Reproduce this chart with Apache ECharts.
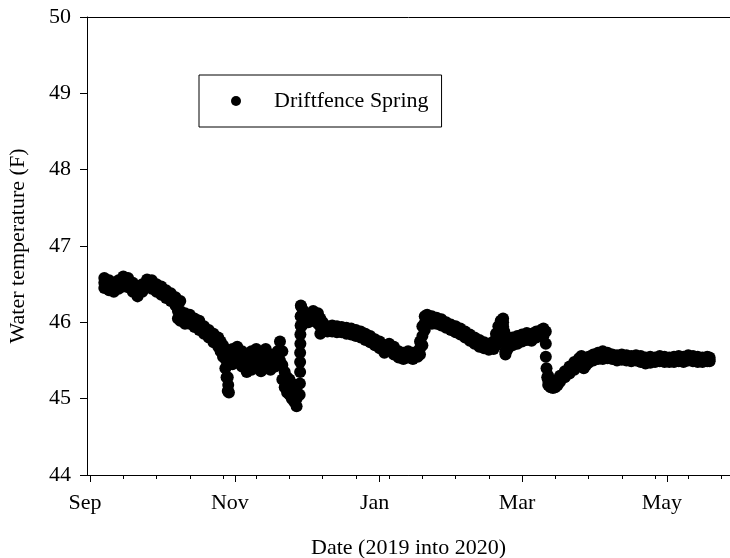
<!DOCTYPE html>
<html>
<head>
<meta charset="utf-8">
<script src="https://cdn.jsdelivr.net/npm/echarts@6/dist/echarts.min.js"></script>
<style>
html,body{margin:0;padding:0;background:#fff;}
#chart{width:730px;height:558px;}
</style>
</head>
<body>
<div id="chart"></div>
<script>
// ---------- text ----------
const seriesName = 'Driftfence Spring';
const xTitle = 'Date (2019 into 2020)';
const yTitle = 'Water temperature (F)';

// ---------- axis ticks (x = days since 2019-09-01) ----------
const monthTickDays = [0, 61, 122, 182, 243];
const monthTickLabels = ['Sep', 'Nov', 'Jan', 'Mar', 'May'];
const minorTickDays = [0, 14, 28, 42, 56, 70, 84, 98, 112, 126, 140, 154, 168, 182, 196, 210, 224, 238, 252, 266];
const yMin = 44, yMax = 50, yStep = 1;

// ---------- data (days since 2019-09-01; daily high / middle / low water temperature, F) ----------
const days = [
  6, 8, 10, 12, 14, 16, 18, 20, 22, 24,
  26, 28, 30, 32, 34, 36, 37, 38, 40, 42,
  44, 46, 48, 50, 52, 54, 55, 56, 57, 58,
  59, 60, 62, 64, 66, 68, 70, 72, 74, 76,
  78, 79, 80, 81, 82, 83, 84, 85, 86, 87,
  89, 90, 92, 94, 96, 97, 98, 100, 102, 104,
  106, 108, 110, 112, 114, 116, 118, 120, 122, 124,
  126, 128, 130, 132, 134, 136, 138, 139, 140, 141,
  142, 144, 146, 148, 150, 152, 154, 156, 158, 160,
  162, 164, 166, 168, 170, 171, 172, 173, 174, 175,
  176, 178, 180, 182, 184, 186, 188, 190, 191, 192,
  193, 194, 195, 196, 197, 198, 200, 202, 204, 206,
  207, 208, 209, 210, 212, 214, 216, 218, 220, 222,
  224, 226, 228, 230, 232, 234, 236, 238, 240, 242,
  244, 246, 248, 250, 252, 254, 256, 258, 260, 261
];
const dailyHigh = [
  46.58, 46.55, 46.52, 46.55, 46.60, 46.58, 46.52, 46.45, 46.50, 46.56,
  46.55, 46.50, 46.47, 46.42, 46.38, 46.33, 46.25, 46.28, 46.12, 46.10,
  46.05, 46.02, 45.95, 45.90, 45.85, 45.80, 45.75, 45.70, 45.65, 45.45,
  45.62, 45.65, 45.68, 45.62, 45.58, 45.62, 45.65, 45.60, 45.65, 45.58,
  45.55, 45.62, 45.75, 45.62, 45.35, 45.28, 45.25, 45.20, 45.15, 45.10,
  46.20, 46.15, 46.10, 46.15, 46.12, 46.05, 46.00, 45.95, 45.96, 45.95,
  45.94, 45.93, 45.92, 45.90, 45.88, 45.85, 45.82, 45.78, 45.75, 45.70,
  45.72, 45.68, 45.62, 45.60, 45.62, 45.60, 45.62, 45.75, 45.95, 46.08,
  46.10, 46.08, 46.06, 46.04, 46.00, 45.97, 45.95, 45.92, 45.88, 45.84,
  45.80, 45.77, 45.74, 45.72, 45.75, 45.85, 45.95, 46.02, 46.05, 45.62,
  45.75, 45.80, 45.82, 45.84, 45.86, 45.85, 45.88, 45.90, 45.92, 45.88,
  45.30, 45.22, 45.20, 45.22, 45.25, 45.30, 45.36, 45.42, 45.48, 45.53,
  45.56, 45.50, 45.52, 45.55, 45.58, 45.60, 45.62, 45.60, 45.58, 45.57,
  45.58, 45.57, 45.56, 45.57, 45.56, 45.54, 45.55, 45.54, 45.56, 45.55,
  45.54, 45.55, 45.56, 45.55, 45.57, 45.56, 45.55, 45.54, 45.55, 45.54
];
const dailyMid = [
  46.52, 46.48, 46.46, 46.50, 46.54, 46.52, 46.46, 46.40, 46.45, 46.51,
  46.50, 46.45, 46.42, 46.37, 46.33, 46.28, 46.15, 46.15, 46.05, 46.04,
  46.00, 45.96, 45.90, 45.85, 45.80, 45.74, 45.68, 45.62, 45.52, 45.28,
  45.54, 45.55, 45.58, 45.52, 45.46, 45.50, 45.54, 45.48, 45.52, 45.48,
  45.48, 45.54, 45.62, 45.44, 45.25, 45.18, 45.15, 45.10, 45.05, 45.00,
  46.08, 46.06, 46.05, 46.08, 46.05, 45.95, 45.94, 45.92, 45.92, 45.91,
  45.90, 45.89, 45.88, 45.86, 45.84, 45.81, 45.78, 45.74, 45.70, 45.65,
  45.68, 45.63, 45.58, 45.56, 45.58, 45.56, 45.58, 45.66, 45.82, 45.99,
  46.05, 46.03, 46.02, 46.00, 45.96, 45.93, 45.91, 45.88, 45.84, 45.80,
  45.76, 45.72, 45.70, 45.68, 45.70, 45.78, 45.88, 45.95, 46.00, 45.60,
  45.70, 45.75, 45.77, 45.80, 45.82, 45.80, 45.84, 45.86, 45.87, 45.72,
  45.24, 45.18, 45.17, 45.18, 45.22, 45.26, 45.32, 45.38, 45.43, 45.48,
  45.52, 45.45, 45.48, 45.51, 45.54, 45.56, 45.57, 45.56, 45.55, 45.53,
  45.54, 45.53, 45.52, 45.53, 45.52, 45.50, 45.51, 45.51, 45.52, 45.51,
  45.51, 45.51, 45.52, 45.51, 45.53, 45.52, 45.51, 45.51, 45.52, 45.51
];
const dailyLow = [
  46.45, 46.42, 46.40, 46.44, 46.47, 46.46, 46.40, 46.34, 46.40, 46.46,
  46.44, 46.40, 46.36, 46.32, 46.28, 46.22, 46.05, 46.02, 45.98, 45.98,
  45.94, 45.90, 45.85, 45.80, 45.74, 45.68, 45.62, 45.55, 45.40, 45.10,
  45.45, 45.45, 45.48, 45.42, 45.35, 45.38, 45.42, 45.36, 45.40, 45.38,
  45.42, 45.45, 45.50, 45.25, 45.15, 45.08, 45.05, 45.00, 44.96, 44.90,
  45.95, 45.98, 46.00, 46.02, 45.98, 45.85, 45.88, 45.88, 45.88, 45.87,
  45.87, 45.85, 45.84, 45.82, 45.80, 45.77, 45.74, 45.70, 45.66, 45.60,
  45.64, 45.58, 45.54, 45.52, 45.54, 45.52, 45.55, 45.58, 45.70, 45.90,
  46.00, 45.98, 45.98, 45.96, 45.93, 45.90, 45.87, 45.84, 45.80, 45.76,
  45.72, 45.68, 45.66, 45.64, 45.65, 45.70, 45.80, 45.88, 45.95, 45.58,
  45.65, 45.70, 45.72, 45.75, 45.77, 45.76, 45.80, 45.82, 45.82, 45.55,
  45.18, 45.15, 45.14, 45.15, 45.18, 45.22, 45.28, 45.33, 45.38, 45.44,
  45.48, 45.40, 45.44, 45.47, 45.50, 45.52, 45.52, 45.53, 45.52, 45.50,
  45.51, 45.50, 45.49, 45.50, 45.48, 45.46, 45.47, 45.48, 45.49, 45.48,
  45.48, 45.48, 45.49, 45.48, 45.50, 45.49, 45.48, 45.48, 45.49, 45.49
];
// readings along the steep jumps/drops
const stepDays  = [57.5, 58.2, 58.5, 88.3, 88.4, 88.5, 88.5, 88.5, 88.6, 88.6, 88.7, 88.7, 88.8, 174.5, 174.7, 192.3, 192.6];
const stepTemps = [45.28, 45.18, 45.08, 45.05, 45.20, 45.35, 45.48, 45.60, 45.72, 45.84, 45.96, 46.08, 46.22, 45.88, 45.74, 45.40, 45.28];

// ---------- chart ----------
const FONT = "'Liberation Serif','Times New Roman',serif";
const FS = 22;
const xMin = -1.3, xMax = 269.6;
const black = '#000';
const pairs = (xs, ys) => xs.map((d, i) => [d, ys[i]]);

const chart = echarts.init(document.getElementById('chart'), null, {renderer: 'canvas'});

const baseSeries = {
  type: 'scatter',
  name: seriesName,
  symbol: 'circle',
  symbolSize: 12,
  itemStyle: {color: black, opacity: 1},
  emphasis: {disabled: true},
  silent: true,
  animation: false
};

const option = {
  animation: false,
  backgroundColor: '#fff',
  grid: {left: 87, right: 0, top: 17, bottom: 83, containLabel: false, outerBoundsMode: 'none'},
  legend: {
    data: [seriesName],
    left: 199, top: 75,
    orient: 'horizontal',
    padding: [15, 13, 15, 32],
    borderColor: black, borderWidth: 1, borderRadius: 0,
    itemWidth: 10, itemHeight: 10, itemGap: 0,
    icon: 'circle',
    selectedMode: false,
    textStyle: {fontFamily: FONT, fontSize: FS, color: black, padding: [0, 0, 0, 28]}
  },
  xAxis: [
    {
      type: 'value', min: xMin, max: xMax, position: 'bottom',
      axisLine: {show: true, onZero: false, lineStyle: {color: black, width: 1}},
      axisTick: {show: true, customValues: monthTickDays, length: 7, inside: false, lineStyle: {color: black, width: 1}},
      axisLabel: {
        show: true, customValues: monthTickDays, margin: 17,
        padding: [0, 10, 0, 0],
        formatter: v => monthTickLabels[monthTickDays.indexOf(v)],
        fontFamily: FONT, fontSize: FS, color: black
      },
      splitLine: {show: false},
      name: xTitle, nameLocation: 'middle', nameGap: 62,
      nameTextStyle: {fontFamily: FONT, fontSize: FS, color: black}
    },
    {
      type: 'value', min: xMin, max: xMax, position: 'bottom',
      axisLine: {show: true, onZero: false, lineStyle: {color: black, width: 1}},
      axisTick: {show: true, customValues: minorTickDays, length: 4, inside: false, lineStyle: {color: black, width: 1}},
      axisLabel: {show: false},
      splitLine: {show: false}
    },
    {
      type: 'value', min: xMin, max: xMax, position: 'top',
      axisLine: {show: true, onZero: false, lineStyle: {color: black, width: 1}},
      axisTick: {show: false},
      axisLabel: {show: false},
      splitLine: {show: false}
    }
  ],
  yAxis: {
    type: 'value', min: yMin, max: yMax, interval: yStep,
    axisLine: {show: true, onZero: false, lineStyle: {color: black, width: 1}},
    axisTick: {show: true, length: 7, inside: false, lineStyle: {color: black, width: 1}},
    axisLabel: {margin: 16, fontFamily: FONT, fontSize: FS, color: black},
    splitLine: {show: false},
    name: yTitle, nameLocation: 'middle', nameGap: 58, nameRotate: 90,
    nameTextStyle: {fontFamily: FONT, fontSize: FS, color: black}
  },
  series: [
    Object.assign({}, baseSeries, {data: pairs(days, dailyHigh)}),
    Object.assign({}, baseSeries, {data: pairs(days, dailyMid)}),
    Object.assign({}, baseSeries, {data: pairs(days, dailyLow)}),
    Object.assign({}, baseSeries, {data: pairs(stepDays, stepTemps)})
  ]
};

chart.setOption(option);
</script>
</body>
</html>
